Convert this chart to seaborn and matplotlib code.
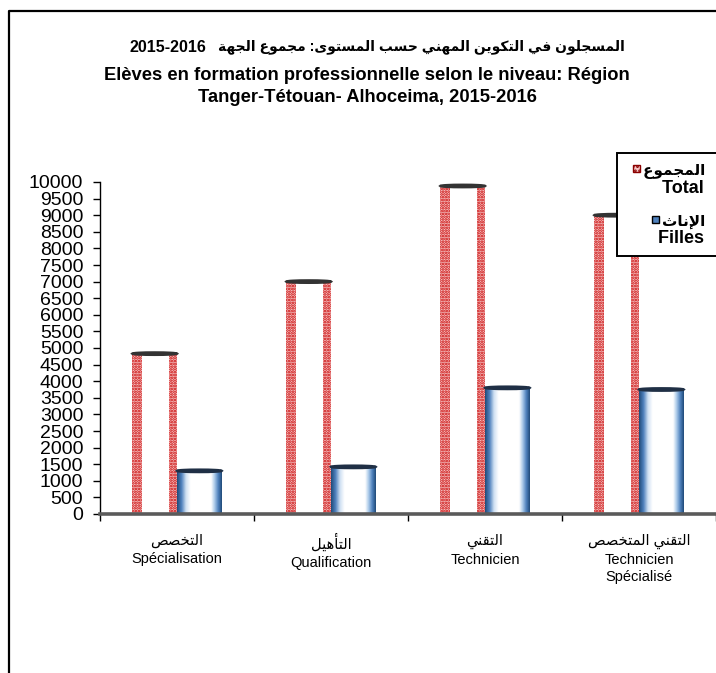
import numpy as np
import pandas as pd
import matplotlib
matplotlib.use("Agg")
import matplotlib.pyplot as plt
import seaborn as sns
from matplotlib.patches import Rectangle, Ellipse, Patch
from matplotlib.colors import LinearSegmentedColormap
from matplotlib.legend_handler import HandlerPatch
from matplotlib.lines import Line2D

# ---------------- data ----------------
categories_ar = ["التخصص", "التأهيل", "التقني", "التقني المتخصص"]
categories_fr = ["Spécialisation", "Qualification", "Technicien", "Technicien\nSpécialisé"]
total = [4830, 7000, 9880, 9000]
filles = [1300, 1420, 3800, 3750]
series_ar = ["المجموع", "الإناث"]
series_fr = ["Total", "Filles"]
title_ar = "المسجلون في التكوين المهني حسب المستوى: مجموع الجهة"
title_years = "2015-2016"
title_fr1 = "Elèves en formation professionnelle selon le niveau: Région"
title_fr2 = "Tanger-Tétouan- Alhoceima, 2015-2016"
yticks = list(range(0, 10001, 500))

# ---------------- minimal Arabic shaping (presentation forms) ----------------
FORMS = {
    "ا": ("\uFE8D", "\uFE8E", None, None),
    "أ": ("\uFE83", "\uFE84", None, None),
    "إ": ("\uFE87", "\uFE88", None, None),
    "ب": ("\uFE8F", "\uFE90", "\uFE91", "\uFE92"),
    "ة": ("\uFE93", "\uFE94", None, None),
    "ت": ("\uFE95", "\uFE96", "\uFE97", "\uFE98"),
    "ث": ("\uFE99", "\uFE9A", "\uFE9B", "\uFE9C"),
    "ج": ("\uFE9D", "\uFE9E", "\uFE9F", "\uFEA0"),
    "ح": ("\uFEA1", "\uFEA2", "\uFEA3", "\uFEA4"),
    "خ": ("\uFEA5", "\uFEA6", "\uFEA7", "\uFEA8"),
    "د": ("\uFEA9", "\uFEAA", None, None),
    "ر": ("\uFEAD", "\uFEAE", None, None),
    "س": ("\uFEB1", "\uFEB2", "\uFEB3", "\uFEB4"),
    "ص": ("\uFEB9", "\uFEBA", "\uFEBB", "\uFEBC"),
    "ع": ("\uFEC9", "\uFECA", "\uFECB", "\uFECC"),
    "ف": ("\uFED1", "\uFED2", "\uFED3", "\uFED4"),
    "ق": ("\uFED5", "\uFED6", "\uFED7", "\uFED8"),
    "ك": ("\uFED9", "\uFEDA", "\uFEDB", "\uFEDC"),
    "ل": ("\uFEDD", "\uFEDE", "\uFEDF", "\uFEE0"),
    "م": ("\uFEE1", "\uFEE2", "\uFEE3", "\uFEE4"),
    "ن": ("\uFEE5", "\uFEE6", "\uFEE7", "\uFEE8"),
    "ه": ("\uFEE9", "\uFEEA", "\uFEEB", "\uFEEC"),
    "و": ("\uFEED", "\uFEEE", None, None),
    "ى": ("\uFEEF", "\uFEF0", None, None),
    "ي": ("\uFEF1", "\uFEF2", "\uFEF3", "\uFEF4"),
}
LAMALEF = {"ا": ("\uFEFB", "\uFEFC"), "أ": ("\uFEF7", "\uFEF8"), "إ": ("\uFEF9", "\uFEFA")}


def shape(s):
    res = []
    i, n = 0, len(s)
    while i < n:
        c = s[i]
        if c not in FORMS:
            res.append(c)
            i += 1
            continue
        prev = s[i - 1] if i > 0 else None
        prev_joins = prev in FORMS and FORMS[prev][2] is not None
        if c == "ل" and i + 1 < n and s[i + 1] in LAMALEF:
            iso, fin = LAMALEF[s[i + 1]]
            res.append(fin if prev_joins else iso)
            i += 2
            continue
        nxt = s[i + 1] if i + 1 < n else None
        join_next = FORMS[c][2] is not None and nxt in FORMS
        iso, fin, ini, med = FORMS[c]
        if prev_joins and join_next:
            res.append(med)
        elif prev_joins:
            res.append(fin)
        elif join_next:
            res.append(ini)
        else:
            res.append(iso)
        i += 1
    return "".join(res)


def ar(s):
    return shape(s)[::-1]


FAM = ["Liberation Sans", "DejaVu Sans"]
plt.rcParams["font.family"] = FAM
plt.rcParams["hatch.linewidth"] = 1.3

# ---------------- figure ----------------
fig = plt.figure(figsize=(7.16, 6.73), dpi=100)
W, H = 716, 673
ax = fig.add_axes([100 / W, 1 - 514 / H, 616 / W, (514 - 182) / H])

df = pd.DataFrame({
    "niveau": categories_fr * 2,
    "effectif": total + filles,
    "serie": [series_fr[0]] * len(total) + [series_fr[1]] * len(filles),
})
sns.barplot(data=df, x="niveau", y="effectif", hue="serie", order=categories_fr,
            hue_order=series_fr, palette=["white", "white"], width=0.58,
            saturation=1, legend=False, errorbar=None, ax=ax, zorder=2)

blue_cmap = LinearSegmentedColormap.from_list(
    "cyl", [(0, "#1f4a78"), (0.1, "#4f81bd"), (0.2, "#cfe0f2"), (0.3, "white"),
            (0.76, "white"), (0.84, "#a9c8e8"), (0.92, "#4f81bd"), (1, "#1f4a78")])
grad = np.linspace(0, 1, 256).reshape(1, -1)

for p in ax.containers[0]:
    x0, w, h = p.get_x(), p.get_width(), p.get_height()
    p.set_facecolor("white")
    p.set_edgecolor("none")
    for sx, sw in [(x0, 0.22 * w), (x0 + 0.83 * w, 0.17 * w)]:
        ax.add_patch(Rectangle((sx, 0), sw, h, facecolor="#f6c4c4", edgecolor="#c80000",
                               hatch="......", lw=0, zorder=2.5))
    ax.add_patch(Ellipse((x0 + w / 2, h), w, 70, facecolor="white", edgecolor="#333333",
                         lw=1.8, zorder=3))

for p in ax.containers[1]:
    x0, w, h = p.get_x(), p.get_width(), p.get_height()
    p.set_edgecolor("none")
    im = ax.imshow(grad, cmap=blue_cmap, extent=(x0, x0 + w, 0, h), aspect="auto",
                   zorder=2.5, interpolation="bilinear")
    im.set_clip_path(p)
    ax.add_patch(Ellipse((x0 + w / 2, h), w, 70, facecolor="white", edgecolor="#1f2f45",
                         lw=1.8, zorder=3))

ax.set_xlim(-0.5, 3.5)
ax.set_ylim(0, 10000)
ax.set_yticks(yticks)
ax.set_yticklabels([str(v) for v in yticks])
ax.set_xticks(range(len(categories_fr)))
ax.set_xticklabels([ar(a) + "\n" + f for a, f in zip(categories_ar, categories_fr)],
                   fontsize=10.5, multialignment="center", linespacing=1.35)
ax.set_xticks(np.arange(-0.5, len(categories_fr), 1), minor=True)
ax.tick_params(axis="x", which="major", length=0, pad=14)
ax.tick_params(axis="x", which="minor", length=5, width=1, direction="out", color="black")
ax.tick_params(axis="y", length=5, width=1, direction="out", labelsize=14, pad=7, color="black")
ax.set_xlabel("")
ax.set_ylabel("")
for s in ["top", "right"]:
    ax.spines[s].set_visible(False)
ax.spines["left"].set_color("black")
ax.spines["left"].set_linewidth(1)
ax.spines["bottom"].set_color("#5a5a5a")
ax.spines["bottom"].set_linewidth(2.6)
ax.spines["bottom"].set_zorder(4)
ax.set_facecolor("none")

# ---------------- title ----------------
fig.text(206 / W, 1 - 48 / H, title_years, ha="right", va="center",
         fontsize=11.5, fontweight="bold", family=FAM)
fig.text(218 / W, 1 - 47 / H, ar(title_ar), ha="left", va="center",
         fontsize=10, fontweight="bold", family=FAM)
cx = 367 / W
fig.text(cx, 1 - 75 / H, title_fr1, ha="center", va="center", fontsize=13.2,
         fontweight="bold", family=FAM)
fig.text(cx, 1 - 97 / H, title_fr2, ha="center", va="center", fontsize=13.2,
         fontweight="bold", family=FAM)

# ---------------- legend ----------------
def make_square(legend, orig_handle, xdescent, ydescent, width, height, fontsize):
    s = 0.42 * fontsize
    return Rectangle((width - s - xdescent, (height - s) / 2 - ydescent), s, s)


sq_total = Patch(facecolor="#f6c4c4", edgecolor="#8b0000", hatch="....", lw=1)
sq_filles = Patch(facecolor="#4f81bd", edgecolor="black", lw=1)
blank = Patch(facecolor="none", edgecolor="none")
handles = [sq_total, blank, blank, sq_filles, blank]
pad_r = "  "
labels = [ar(series_ar[0]) + pad_r, series_fr[0] + pad_r, " ",
          ar(series_ar[1]) + pad_r, series_fr[1] + pad_r]
sizes = [11, 13, 8, 11, 13]
leg = ax.legend(handles, labels, loc="upper left", bbox_to_anchor=(617 / W, 1 - 153 / H),
                bbox_transform=fig.transFigure, borderaxespad=0, frameon=True,
                fancybox=False, edgecolor="black", framealpha=1, borderpad=0.5,
                handlelength=0.8, handletextpad=0.15, labelspacing=0.05,
                prop={"family": FAM, "weight": "bold", "size": 13},
                handler_map={Patch: HandlerPatch(patch_func=make_square)})
leg.get_frame().set_linewidth(1.4)
leg.set_zorder(10)
for t, sz in zip(leg.get_texts(), sizes):
    t.set_fontsize(sz)
for col in leg._legend_handle_box.get_children():
    col.align = "right"

# ---------------- outer frame ----------------
fig.add_artist(Line2D([9 / W, 9 / W, 1], [0, 1 - 11 / H, 1 - 11 / H],
                      transform=fig.transFigure, color="black", lw=1.6))

fig.savefig("out.png", dpi=100)
